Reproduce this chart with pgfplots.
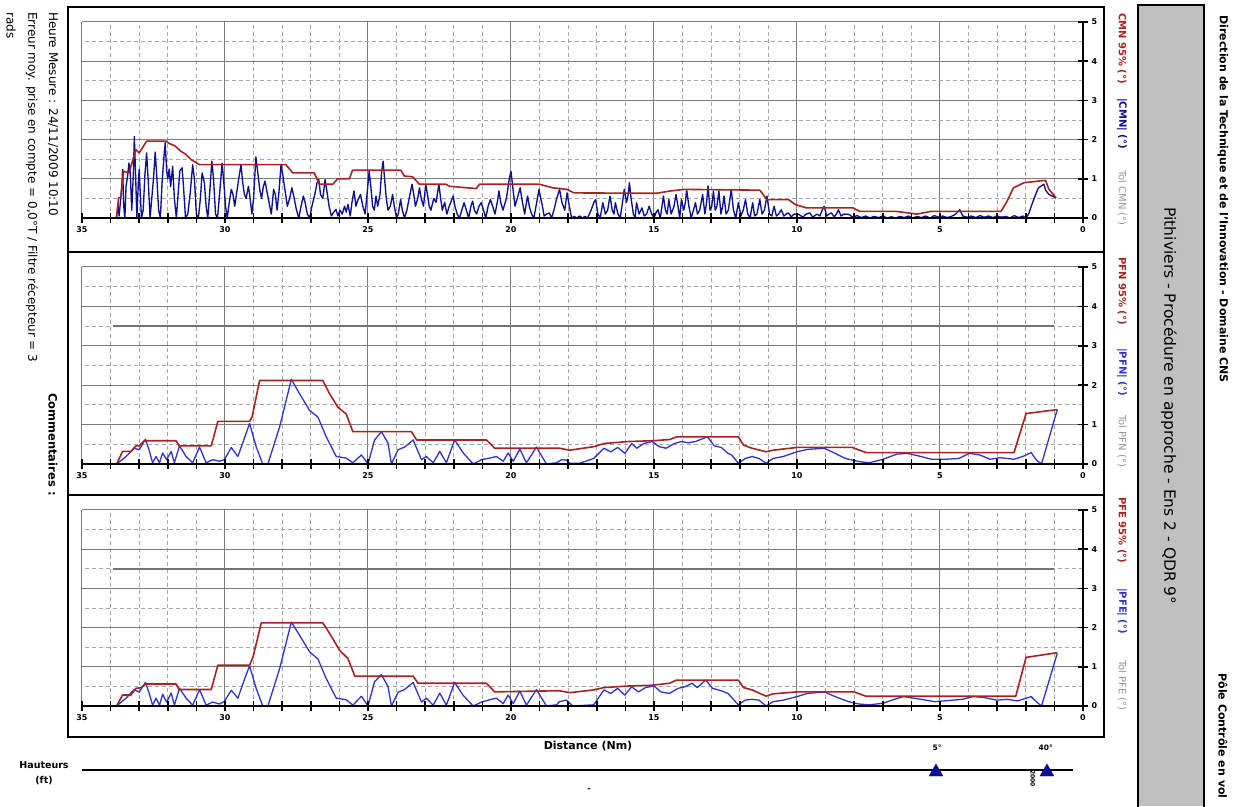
\documentclass[border=0pt]{standalone}
\usepackage{fontspec}
\setmainfont{DejaVu Sans}
\usepackage{pgfplots}
\pgfplotsset{compat=1.18}
\definecolor{cred}{RGB}{165,35,35}
\definecolor{cnavy}{RGB}{15,15,145}
\definecolor{cblue}{RGB}{50,50,205}
\definecolor{cgrid}{RGB}{125,125,125}
\definecolor{cminor}{RGB}{165,165,165}
\definecolor{cbox}{RGB}{192,192,192}
\definecolor{ctol}{RGB}{115,115,115}
\definecolor{ctoltext}{RGB}{150,150,150}
\newcommand{\fs}[1]{\fontsize{#1}{#1}\selectfont}
\newcommand{\axisticks}{%
  \addplot[only marks, mark=|, mark size=5pt, black, mark options={line width=1.5pt}] coordinates {
  (0,0)(1,0)(2,0)(3,0)(4,0)(5,0)(6,0)(7,0)(8,0)(9,0)(10,0)(11,0)(12,0)(13,0)(14,0)(15,0)(16,0)(17,0)
  (18,0)(19,0)(20,0)(21,0)(22,0)(23,0)(24,0)(25,0)(26,0)(27,0)(28,0)(29,0)(30,0)(31,0)(32,0)(33,0)(34,0)(35,0)};
  \addplot[only marks, mark=-, mark size=5pt, black, mark options={line width=1.5pt}] coordinates {
  (0,0)(0,1)(0,2)(0,3)(0,4)(0,5)};
}
\pgfplotsset{panel/.style={
  scale only axis, width=1001pt,
  x dir=reverse, xmin=0, xmax=35, ymin=0, ymax=5,
  xtick={0,5,...,35},
  minor xtick={1,2,3,4,6,7,8,9,11,12,13,14,16,17,18,19,21,22,23,24,26,27,28,29,31,32,33,34},
  ytick={0,1,...,5},
  extra y ticks={0.5,1.5,2.5,3.5,4.5}, extra y tick labels={},
  extra y tick style={grid=major, major grid style={cminor, dash pattern=on 4pt off 3pt, line width=0.8pt}},
  grid=both,
  major grid style={cgrid, line width=1pt},
  minor grid style={cminor, dash pattern=on 4pt off 3pt, line width=0.8pt},
  axis line style={draw=none},
  xtick pos=left, ytick pos=right,
  major tick length=0pt, minor tick length=0pt,
  /pgf/number format/assume math mode=true,
  xticklabel style={font=\fs{8}\bfseries, yshift=-5pt},
  yticklabel style={font=\fs{8}\bfseries, xshift=5pt},
  clip mode=individual, clip marker paths=false,
  every axis plot/.append style={line join=round},
}}
\begin{document}
\begin{tikzpicture}[x=1pt,y=1pt]
\useasboundingbox (0pt,0pt) rectangle (1239pt,806pt);
% ---------------- Panel 1 : CMN
\begin{axis}[panel, at={(82pt,588pt)}, anchor=south west, height=196pt]
\addplot[cnavy, line width=1.35pt] coordinates {
(33.80,0) (33.74,0.35) (33.70,0.05) (33.64,0.55) (33.60,0.9) (33.58,1.24) (33.54,0.3) (33.50,0.0)
(33.46,0.8) (33.40,1.1) (33.36,1.4) (33.32,1.3) (33.26,0.2) (33.20,1.2) (33.17,2.08) (33.13,1.2)
(33.08,0.0) (33.03,0.9) (33.00,1.24) (32.96,0.6) (32.92,0.0) (32.86,0.2) (32.80,1.1) (32.74,1.66)
(32.68,0.9) (32.62,0.0) (32.56,0.5) (32.50,1.0) (32.44,1.68) (32.38,1.0) (32.32,0.2) (32.26,0.0)
(32.20,0.9) (32.13,1.6) (32.09,1.92) (32.04,1.2) (32.0,1.0) (31.95,1.25) (31.90,0.8) (31.83,1.32)
(31.77,0.5) (31.70,0.0) (31.64,0.6) (31.58,1.2) (31.50,1.28) (31.45,0.8) (31.38,0.0) (31.30,0.1)
(31.22,0.6) (31.13,1.36) (31.07,1.0) (31.0,0.1) (30.93,0.0) (30.86,0.5) (30.80,1.15) (30.72,0.9)
(30.66,0.3) (30.60,0.0) (30.52,0.8) (30.46,1.45) (30.40,1.0) (30.33,0.1) (30.26,0.0) (30.18,0.7)
(30.10,1.4) (30.04,0.9) (29.98,0.3) (29.92,0.0) (29.85,0.4) (29.78,0.73) (29.72,0.6) (29.66,0.3)
(29.58,0.7) (29.52,1.0) (29.44,1.36) (29.38,0.9) (29.32,0.6) (29.26,0.5) (29.18,0.81) (29.12,0.5)
(29.06,0.1) (29.0,0.5) (28.92,1.56) (28.86,1.2) (28.78,0.7) (28.72,0.5) (28.66,0.8) (28.60,0.94)
(28.54,0.7) (28.46,0.4) (28.38,0.1) (28.30,0.73) (28.24,0.6) (28.18,0.2) (28.12,0.6) (28.04,1.36)
(27.98,1.1) (27.90,0.7) (27.82,0.3) (27.74,0.5) (27.66,0.77) (27.58,0.5) (27.50,0.2) (27.42,0.0)
(27.34,0.3) (27.26,0.56) (27.20,0.4) (27.12,0.1) (27.04,0.0) (26.96,0.3) (26.86,0.6) (26.78,0.9)
(26.72,0.98) (26.66,0.6) (26.58,0.5) (26.50,0.98) (26.44,0.7) (26.36,0.3) (26.28,0.05) (26.20,0.15)
(26.12,0.22) (26.05,0.05) (25.98,0.2) (25.90,0.1) (25.82,0.3) (25.76,0.15) (25.70,0.35) (25.62,0.05)
(25.56,0.4) (25.49,0.69) (25.42,0.3) (25.36,0.45) (25.26,0.6) (25.18,0.3) (25.10,0.1) (25.02,0.7)
(24.96,1.19) (24.90,0.8) (24.84,0.3) (24.78,0.2) (24.72,0.56) (24.66,0.3) (24.58,0.6) (24.52,1.2)
(24.47,1.45) (24.42,1.0) (24.36,0.5) (24.30,0.2) (24.22,0.3) (24.14,0.6) (24.08,0.3) (24.00,0.0)
(23.94,0.1) (23.86,0.47) (23.80,0.2) (23.72,0.0) (23.64,0.2) (23.56,0.5) (23.46,0.86) (23.40,0.6)
(23.34,0.3) (23.26,0.5) (23.20,0.77) (23.14,0.5) (23.06,0.3) (22.98,0.86) (22.92,0.6) (22.86,0.3)
(22.80,0.2) (22.70,0.5) (22.62,0.4) (22.52,0.86) (22.46,0.5) (22.40,0.2) (22.32,0.4) (22.24,0.1)
(22.16,0.3) (22.08,0.45) (22.02,0.56) (21.96,0.3) (21.88,0.1) (21.80,0.0) (21.72,0.2) (21.64,0.39)
(21.56,0.2) (21.48,0.0) (21.40,0.3) (21.34,0.43) (21.28,0.2) (21.20,0.1) (21.12,0.3) (21.04,0.39)
(20.96,0.2) (20.88,0.0) (20.80,0.3) (20.72,0.47) (20.64,0.3) (20.56,0.1) (20.48,0.4) (20.42,0.69)
(20.36,0.4) (20.28,0.2) (20.16,0.5) (20.06,1.0) (20.00,1.19) (19.94,0.8) (19.86,0.3) (19.78,0.5)
(19.68,0.77) (19.60,0.4) (19.52,0.1) (19.46,0.4) (19.42,0.56) (19.36,0.3) (19.28,0.1) (19.20,0.0)
(19.10,0.4) (19.02,0.73) (18.96,0.5) (18.91,0.34) (18.84,0.05) (18.76,0.1) (18.66,0.13) (18.58,0.0)
(18.50,0.2) (18.40,0.5) (18.30,0.73) (18.22,0.4) (18.12,0.2) (18.04,0.64) (17.96,0.3) (17.88,0.0)
(17.79,0.04) (17.70,0.0) (17.60,0.05) (17.50,0.0) (17.42,0.04) (17.32,0.0) (17.20,0.2) (17.10,0.4)
(17.04,0.47) (16.96,0.1) (16.88,0.0) (16.79,0.39) (16.70,0.1) (16.62,0.2) (16.54,0.56) (16.46,0.2)
(16.40,0.1) (16.35,0.39) (16.26,0.1) (16.18,0.0) (16.10,0.4) (16.04,0.73) (15.96,0.4) (15.90,0.6)
(15.86,0.9) (15.80,0.5) (15.72,0.1) (15.66,0.0) (15.61,0.39) (15.52,0.1) (15.42,0.26) (15.34,0.05)
(15.26,0.1) (15.17,0.3) (15.08,0.1) (15.00,0.0) (14.92,0.15) (14.86,0.21) (14.78,0.0) (14.72,0.3)
(14.67,0.56) (14.60,0.2) (14.54,0.1) (14.48,0.47) (14.40,0.1) (14.30,0.3) (14.23,0.6) (14.16,0.3)
(14.10,0.0) (14.04,0.47) (13.96,0.2) (13.90,0.4) (13.86,0.73) (13.78,0.3) (13.70,0.0) (13.62,0.2)
(13.55,0.39) (13.48,0.1) (13.40,0.2) (13.30,0.6) (13.22,0.1) (13.16,0.4) (13.11,0.82) (13.04,0.2)
(12.98,0.3) (12.92,0.69) (12.86,0.2) (12.80,0.3) (12.73,0.69) (12.66,0.1) (12.60,0.3) (12.55,0.56)
(12.48,0.1) (12.40,0.2) (12.30,0.73) (12.22,0.2) (12.14,0.0) (12.05,0.39) (11.96,0.05) (11.88,0.2)
(11.80,0.47) (11.72,0.1) (11.64,0.0) (11.55,0.39) (11.48,0.05) (11.40,0.1) (11.30,0.47) (11.22,0.1)
(11.14,0.2) (11.05,0.56) (10.96,0.1) (10.88,0.05) (10.80,0.3) (10.72,0.05) (10.64,0.1) (10.55,0.21)
(10.46,0.05) (10.38,0.1) (10.30,0.13) (10.20,0.03) (10.10,0.1) (9.93,0.09) (9.80,0.02) (9.68,0.1)
(9.55,0.13) (9.45,0.02) (9.30,0.1) (9.20,0.05) (9.12,0.2) (9.05,0.30) (8.96,0.05) (8.88,0.1)
(8.80,0.13) (8.70,0.03) (8.62,0.1) (8.55,0.21) (8.46,0.05) (8.36,0.1) (8.18,0.09) (8.05,0.02)
(7.90,0.06) (7.75,0.01) (7.60,0.05) (7.45,0.0) (7.30,0.04) (7.15,0.01) (7.00,0.05) (6.85,0.0)
(6.70,0.03) (6.55,0.0) (6.40,0.04) (6.25,0.01) (6.10,0.05) (5.95,0.0) (5.80,0.04) (5.65,0.01)
(5.50,0.05) (5.35,0.0) (5.20,0.06) (5.05,0.02) (4.90,0.05) (4.75,0.01) (4.60,0.04) (4.45,0.1)
(4.31,0.21) (4.20,0.05) (4.05,0.02) (3.90,0.05) (3.75,0.01) (3.60,0.06) (3.45,0.02) (3.30,0.05)
(3.15,0.01) (3.00,0.05) (2.85,0.02) (2.70,0.04) (2.55,0.0) (2.40,0.06) (2.25,0.01) (2.10,0.05)
(2.00,0.0) (1.90,0.1) (1.81,0.3) (1.68,0.55) (1.56,0.77) (1.45,0.82) (1.37,0.86) (1.30,0.70)
(1.19,0.60) (1.05,0.55) (0.94,0.51)};
\addplot[cred, line width=1.6pt] coordinates {
(33.79,0) (33.72,0.52) (33.64,0.52) (33.55,1.19) (33.35,1.15) (33.12,1.75) (33.0,1.66) (32.74,1.96)
(32.06,1.96) (31.95,1.9) (31.75,1.84) (31.54,1.7) (31.36,1.62) (31.19,1.49) (31.0,1.41) (30.9,1.36)
(27.87,1.36) (27.63,1.15) (26.88,1.15) (26.7,0.86) (26.23,0.86) (26.06,1.0) (25.65,1.0) (25.54,1.22)
(23.85,1.22) (23.73,1.07) (23.44,1.05) (23.2,0.86) (22.27,0.86) (22.16,0.81) (21.22,0.75) (21.1,0.86)
(19.0,0.86) (18.54,0.77) (18.04,0.73) (17.8,0.64) (14.92,0.63) (14.42,0.69) (13.92,0.73) (11.3,0.71)
(11.05,0.47) (10.3,0.47) (10.05,0.34) (9.68,0.26) (8.05,0.26) (7.8,0.17) (6.55,0.17) (5.8,0.1)
(5.3,0.17) (2.87,0.17) (2.68,0.39) (2.43,0.77) (2.06,0.9) (1.31,0.96) (1.19,0.73) (0.94,0.51)};
\draw[black, line width=1.5pt] (axis cs:35,0) -- (axis cs:0,0) -- (axis cs:0,5);
\axisticks
\end{axis}
% ---------------- Panel 2 : PFN
\begin{axis}[panel, at={(82pt,342pt)}, anchor=south west, height=197pt]
\addplot[ctol, line width=1.6pt] coordinates {(33.9,3.5) (1.0,3.5)};
\addplot[cblue, line width=1.3pt] coordinates {
(33.79,0) (33.46,0.19) (33.17,0.4) (33.0,0.36) (32.78,0.63) (32.64,0.32) (32.53,0.03) (32.41,0.19)
(32.29,0.03) (32.18,0.28) (32.04,0.11) (31.88,0.32) (31.77,0.03) (31.59,0.46) (31.36,0.19) (31.13,0.03)
(30.89,0.43) (30.66,0.03) (30.43,0.11) (30.19,0.07) (30.02,0.11) (29.78,0.42) (29.55,0.19) (29.26,0.78)
(29.14,1.03) (28.91,0.44) (28.68,0) (28.5,0) (28.09,0.94) (27.68,2.15) (27.39,1.78) (27.04,1.36)
(26.75,1.19) (26.46,0.69) (26.11,0.19) (25.76,0.15) (25.53,0.03) (25.23,0.23) (25.0,0) (24.77,0.61)
(24.53,0.82) (24.3,0.53) (24.18,0) (23.95,0.36) (23.72,0.43) (23.42,0.61) (23.13,0.11) (22.96,0.19)
(22.72,0.03) (22.49,0.32) (22.26,0.03) (21.97,0.61) (21.67,0.28) (21.32,0) (21.03,0.11) (20.74,0.15)
(20.51,0.19) (20.27,0.07) (20.1,0.28) (19.92,0.07) (19.69,0.38) (19.46,0.03) (19.11,0.43) (18.76,0)
(18.41,0.03) (18.23,0.11) (18.07,0.1) (17.95,0.02) (17.59,0.02) (17.11,0.14) (16.75,0.4) (16.51,0.31)
(16.27,0.42) (16.02,0.27) (15.78,0.52) (15.6,0.4) (15.36,0.52) (15.06,0.57) (14.82,0.44) (14.58,0.4)
(14.28,0.52) (14.04,0.57) (13.8,0.54) (13.55,0.57) (13.13,0.69) (12.89,0.46) (12.65,0.42) (12.41,0.27)
(12.29,0.23) (12.05,0.02) (11.81,0.14) (11.57,0.19) (11.33,0.14) (11.08,0.02) (10.84,0.14) (10.48,0.19)
(10.0,0.31) (9.64,0.37) (9.04,0.4) (8.67,0.27) (8.31,0.14) (7.83,0.06) (7.47,0.03) (6.99,0.12)
(6.51,0.25) (6.14,0.27) (5.66,0.19) (5.3,0.12) (4.82,0.12) (4.34,0.14) (3.98,0.27) (3.61,0.23)
(3.25,0.12) (2.89,0.16) (2.41,0.12) (2.11,0.19) (1.81,0.29) (1.63,0.1) (1.45,0) (0.9,1.38)};
\addplot[cred, line width=1.6pt] coordinates {
(33.79,0) (33.58,0.32) (33.29,0.32) (33.11,0.46) (33.0,0.46) (32.82,0.59) (31.71,0.59) (31.6,0.46)
(30.48,0.46) (30.25,1.08) (29.14,1.08) (29.05,1.2) (28.79,2.12) (26.58,2.12) (26.34,1.78) (26.05,1.44)
(25.76,1.27) (25.53,0.82) (23.48,0.82) (23.3,0.61) (20.86,0.61) (20.57,0.4) (18.3,0.4) (17.95,0.35)
(17.1,0.44) (16.75,0.52) (15.9,0.57) (15.06,0.59) (14.46,0.62) (14.2,0.69) (12.05,0.69) (11.87,0.48)
(11.57,0.4) (11.08,0.31) (10.84,0.35) (10.0,0.42) (8.07,0.42) (7.59,0.29) (2.41,0.29) (1.99,1.28)
(0.9,1.38)};
\draw[black, line width=1.5pt] (axis cs:35,0) -- (axis cs:0,0) -- (axis cs:0,5);
\axisticks
\end{axis}
% ---------------- Panel 3 : PFE
\begin{axis}[panel, at={(82pt,100pt)}, anchor=south west, height=196pt]
\addplot[ctol, line width=1.6pt] coordinates {(33.9,3.5) (1.0,3.5)};
\addplot[cblue, line width=1.3pt] coordinates {
(33.79,0) (33.46,0.2) (33.17,0.42) (33.0,0.35) (32.78,0.6) (32.64,0.3) (32.53,0.02) (32.41,0.2)
(32.29,0.02) (32.18,0.3) (32.04,0.1) (31.88,0.33) (31.77,0.02) (31.59,0.45) (31.36,0.2) (31.13,0.02)
(30.89,0.42) (30.66,0.02) (30.43,0.1) (30.19,0.05) (30.02,0.12) (29.78,0.4) (29.55,0.2) (29.26,0.8)
(29.14,1.02) (28.91,0.45) (28.68,0) (28.5,0) (28.09,0.95) (27.68,2.14) (27.39,1.8) (27.04,1.38)
(26.75,1.2) (26.46,0.7) (26.11,0.2) (25.76,0.16) (25.53,0.02) (25.23,0.25) (25.0,0) (24.77,0.62)
(24.53,0.8) (24.3,0.5) (24.18,0) (23.95,0.35) (23.72,0.42) (23.42,0.6) (23.13,0.1) (22.96,0.2)
(22.72,0.02) (22.49,0.33) (22.26,0.02) (21.97,0.6) (21.67,0.27) (21.32,0) (21.03,0.1) (20.74,0.16)
(20.51,0.2) (20.27,0.06) (20.1,0.28) (19.92,0.06) (19.69,0.38) (19.46,0.02) (19.11,0.42) (18.76,0)
(18.41,0.03) (18.31,0.11) (18.07,0.15) (17.83,0) (17.11,0.03) (16.75,0.41) (16.51,0.32) (16.27,0.45)
(16.02,0.28) (15.78,0.49) (15.54,0.36) (15.3,0.47) (15.0,0.51) (14.76,0.36) (14.46,0.32) (14.16,0.45)
(13.92,0.49) (13.67,0.58) (13.49,0.47) (13.19,0.66) (12.95,0.45) (12.65,0.39) (12.41,0.32) (12.05,0.03)
(11.81,0.15) (11.57,0.17) (11.33,0.15) (11.08,0) (10.84,0.11) (10.48,0.15) (10.0,0.24) (9.64,0.32)
(9.04,0.36) (8.67,0.24) (8.19,0.11) (7.83,0.05) (7.47,0.03) (6.99,0.07) (6.51,0.19) (6.27,0.24)
(5.66,0.17) (5.18,0.11) (4.7,0.14) (4.22,0.17) (3.86,0.24) (3.49,0.22) (3.01,0.15) (2.65,0.17)
(2.29,0.13) (1.81,0.24) (1.63,0.11) (1.45,0) (0.9,1.34)};
\addplot[cred, line width=1.6pt] coordinates {
(33.79,0) (33.58,0.28) (33.29,0.28) (33.11,0.45) (32.93,0.47) (32.78,0.56) (31.71,0.56) (31.6,0.42)
(30.48,0.42) (30.25,1.04) (29.14,1.04) (29.02,1.25) (28.73,2.12) (26.58,2.12) (26.34,1.85) (25.99,1.42)
(25.7,1.21) (25.46,0.76) (23.42,0.76) (23.25,0.58) (20.86,0.58) (20.57,0.36) (18.31,0.39) (17.95,0.34)
(17.11,0.41) (16.75,0.47) (15.9,0.51) (15.06,0.53) (14.46,0.58) (14.22,0.66) (12.05,0.66) (11.87,0.47)
(11.57,0.41) (11.08,0.25) (10.84,0.31) (10.0,0.36) (8.01,0.36) (7.59,0.25) (2.35,0.25) (1.99,1.24)
(0.9,1.36)};
\draw[black, line width=1.5pt] (axis cs:35,0) -- (axis cs:0,0) -- (axis cs:0,5);
\axisticks
\end{axis}
% ---------------- Hauteurs strip
\begin{axis}[scale only axis, width=1001pt, height=20pt, at={(82pt,26pt)}, anchor=south west,
  x dir=reverse, xmin=0, xmax=35, ymin=-1, ymax=1, axis lines=none, clip=false]
\addplot[black, line width=1.3pt] coordinates {(35,0) (0.35,0)};
\addplot[only marks, mark=triangle*, mark size=8pt, cnavy, mark options={yshift=-2pt}] coordinates {(5.14,0) (1.26,0)};
\node[font=\fs{7.5}\bfseries] at (axis cs:5.10,0) [yshift=22pt] {5°};
\node[font=\fs{7.5}\bfseries] at (axis cs:1.30,0) [yshift=22pt] {40°};
\node[font=\fs{6}\bfseries, rotate=-90, anchor=west, inner sep=0pt] at (axis cs:1.58,0) [yshift=-5pt] {2000};
\end{axis}
% ---------------- frames
\draw[line width=1.5pt] (68pt,799pt) rectangle (1104pt,554pt);
\draw[line width=1.5pt] (68pt,554pt) rectangle (1104pt,311pt);
\draw[line width=1.5pt] (68pt,311pt) rectangle (1104pt,69pt);
% title box
\fill[cbox] (1138pt,0pt) rectangle (1204pt,801pt);
\draw[line width=2pt] (1138pt,-2pt) -- (1138pt,801pt) -- (1204pt,801pt) -- (1204pt,-2pt);
\node[rotate=-90, font=\fs{15.5}] at (1169pt,400pt) {Pithiviers - Procédure en approche - Ens 2 - QDR 9°};
\node[rotate=-90, anchor=west, font=\fs{11}\bfseries] at (1223pt,794pt) {Direction de la Technique et de l'Innovation - Domaine CNS};
\node[rotate=-90, anchor=west, font=\fs{11}\bfseries] at (1223pt,136pt) {Pôle Contrôle en vol};
% legends
\node[rotate=-90, anchor=west, inner sep=0pt, font=\fs{10}\bfseries, text=cred] at (1122pt,793pt) {CMN 95\% (°)};
\node[rotate=-90, anchor=west, inner sep=0pt, font=\fs{10}\bfseries, text=cnavy] at (1122pt,708pt) {|CMN| (°)};
\node[rotate=-90, anchor=west, inner sep=0pt, font=\fs{10}, text=ctoltext] at (1122pt,636pt) {Tol CMN (°)};
\node[rotate=-90, anchor=west, inner sep=0pt, font=\fs{10}\bfseries, text=cred] at (1122pt,549pt) {PFN 95\% (°)};
\node[rotate=-90, anchor=west, inner sep=0pt, font=\fs{10}\bfseries, text=cblue] at (1122pt,458pt) {|PFN| (°)};
\node[rotate=-90, anchor=west, inner sep=0pt, font=\fs{10}, text=ctoltext] at (1122pt,391pt) {Tol PFN (°)};
\node[rotate=-90, anchor=west, inner sep=0pt, font=\fs{10}\bfseries, text=cred] at (1122pt,309pt) {PFE 95\% (°)};
\node[rotate=-90, anchor=west, inner sep=0pt, font=\fs{10}\bfseries, text=cblue] at (1122pt,218pt) {|PFE| (°)};
\node[rotate=-90, anchor=west, inner sep=0pt, font=\fs{10}, text=ctoltext] at (1122pt,146pt) {Tol PFE (°)};
% left texts
\node[rotate=-90, anchor=west, inner sep=0pt, font=\fs{12}] at (53pt,794pt) {Heure Mesure : 24/11/2009 10:10};
\node[rotate=-90, anchor=west, inner sep=0pt, font=\fs{12}] at (32pt,794pt) {Erreur moy. prise en compte = 0,0°T / Filtre récepteur = 3};
\node[rotate=-90, anchor=west, inner sep=0pt, font=\fs{12}] at (11pt,794pt) {rads};
\node[rotate=-90, anchor=west, inner sep=0pt, font=\fs{11.5}\bfseries] at (53pt,413pt) {Commentaires :};
% bottom
\node[font=\fs{11}\bfseries] at (588pt,60pt) {Distance (Nm)};
\node[font=\fs{9.5}\bfseries] at (44pt,41pt) {Hauteurs};
\node[font=\fs{9.5}\bfseries] at (44pt,25pt) {(ft)};
\node[font=\fs{8}\bfseries] at (589pt,16pt) {-};
\end{tikzpicture}
\end{document}
